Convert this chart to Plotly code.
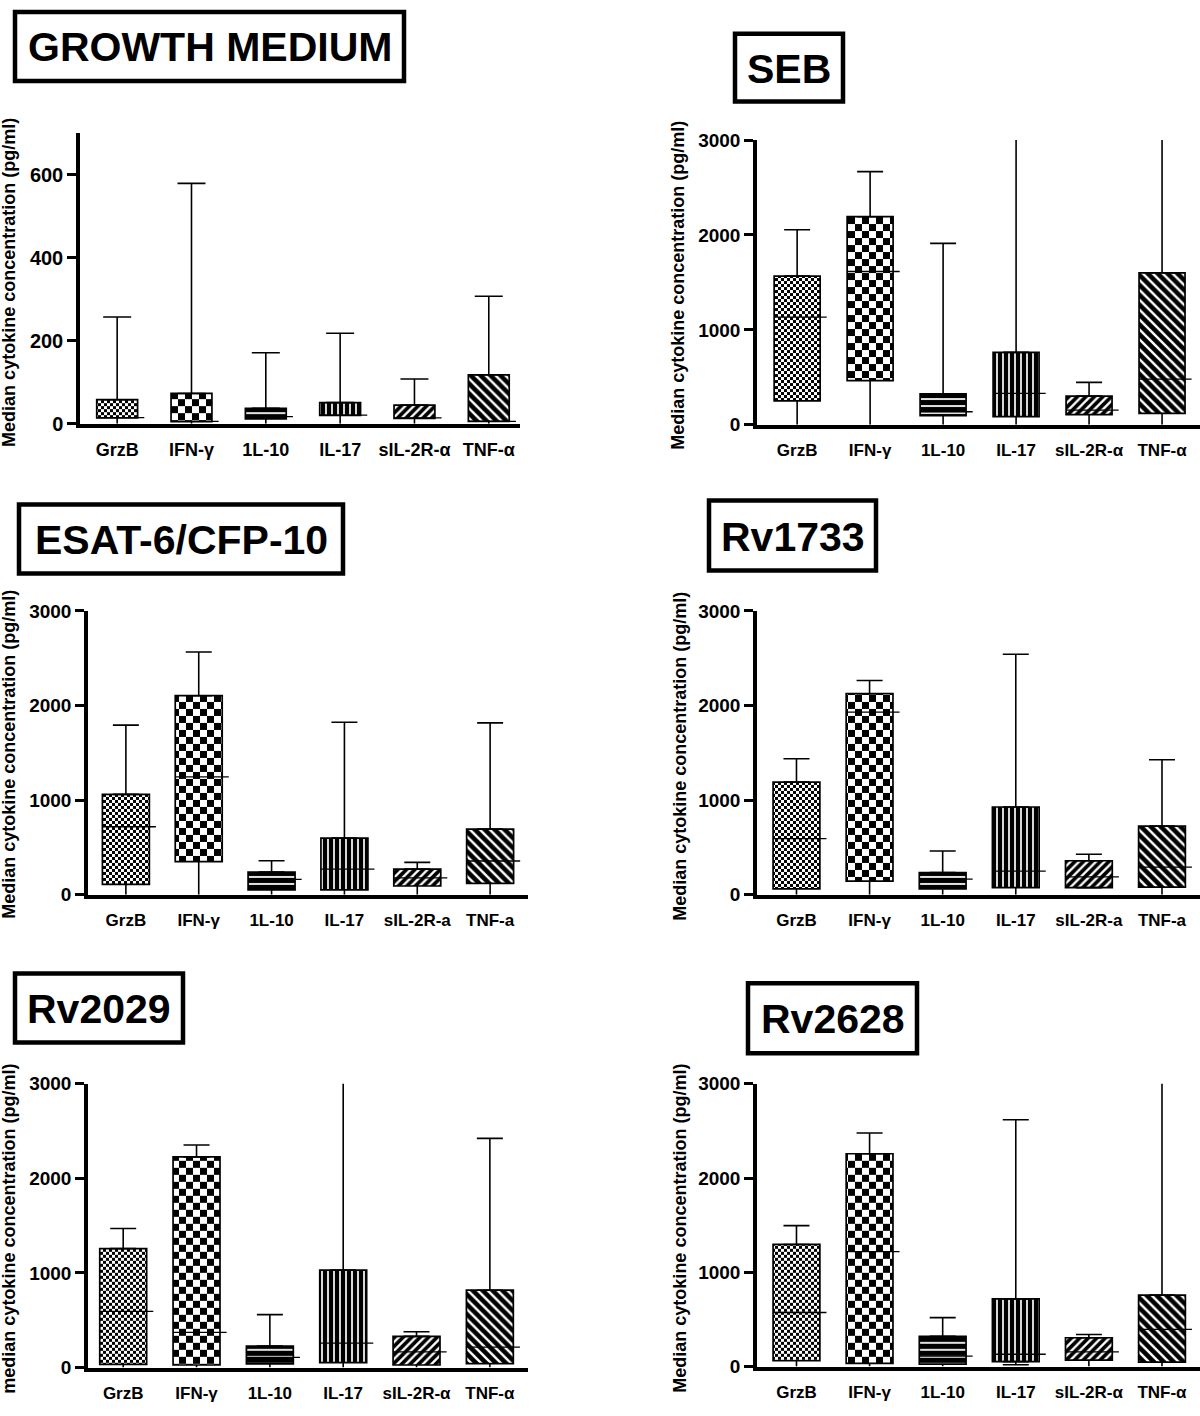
import plotly.graph_objects as go

W, H = 1200, 1416

# ---------------- data ----------------
cats_alpha = ["GrzB", "IFN-γ", "1L-10", "IL-17", "sIL-2R-α", "TNF-α"]
cats_a = ["GrzB", "IFN-γ", "1L-10", "IL-17", "sIL-2R-a", "TNF-a"]

titles = ["GROWTH MEDIUM", "SEB", "ESAT-6/CFP-10", "Rv1733", "Rv2029", "Rv2628"]
ytitle_upper = "Median cytokine concentration (pg/ml)"
ytitle_lower = "median cytokine concentration (pg/ml)"

gm_min = [0, 0, 0, 0, 0, 0]
gm_q1 = [14, 5, 12, 20, 13, 6]
gm_med = [15, 6, 17, 21, 14, 6]
gm_q3 = [58, 73, 37, 51, 45, 118]
gm_max = [257, 579, 171, 218, 108, 307]

seb_min = [0, 0, 0, 0, 0, 0]
seb_q1 = [251, 464, 96, 86, 107, 120]
seb_med = [1134, 1615, 137, 330, 155, 481]
seb_q3 = [1567, 2192, 326, 763, 302, 1601]
seb_max = [2055, 2667, 1911, 3300, 447, 3300]

esat_min = [0, 0, 0, 0, 0, 0]
esat_q1 = [109, 349, 51, 51, 92, 120]
esat_med = [718, 1245, 161, 270, 178, 356]
esat_q3 = [1061, 2104, 239, 599, 270, 694]
esat_max = [1793, 2566, 359, 1823, 342, 1817]

rv1733_min = [0, 0, 0, 0, 75, 0]
rv1733_q1 = [62, 144, 62, 75, 75, 79]
rv1733_med = [592, 1930, 164, 250, 188, 291]
rv1733_q3 = [1191, 2125, 233, 927, 359, 725]
rv1733_max = [1437, 2265, 462, 2542, 428, 1427]

rv2029_min = [0, 0, 0, 0, 0, 0]
rv2029_q1 = [34, 27, 38, 52, 27, 41]
rv2029_med = [595, 371, 107, 258, 165, 216]
rv2029_q3 = [1258, 2227, 227, 1031, 330, 818]
rv2029_max = [1471, 2354, 560, 3300, 378, 2423]

rv2628_min = [0, 0, 0, 20, 0, 0]
rv2628_q1 = [62, 34, 27, 52, 69, 48]
rv2628_med = [574, 1220, 110, 131, 155, 395]
rv2628_q3 = [1296, 2258, 320, 718, 306, 759]
rv2628_max = [1495, 2478, 519, 2619, 340, 3300]

y_ticks_gm = [0, 200, 400, 600]
y_ticks = [0, 1000, 2000, 3000]

# ---------------- layout specs (pixels) ----------------
def fx(px):
    return px / W

def fy(py):
    return 1 - py / H

FONT = "Liberation Sans, Arial, sans-serif"

panels = [
    dict(title=titles[0], cats=cats_alpha, ytitle=ytitle_upper,
         mn=gm_min, q1=gm_q1, med=gm_med, q3=gm_q3, mx=gm_max,
         ymax=700, yt=y_ticks_gm,
         ax=(80, 520), ay=(125, 420), xr=(-0.5, 5.42), bw=0.55, cap=14,
         box=(15, 2, 404, 72), tfont=20, cfont=18,
         ytx=9, yty=277),
    dict(title=titles[1], cats=cats_alpha, ytitle=ytitle_upper,
         mn=seb_min, q1=seb_q1, med=seb_med, q3=seb_q3, mx=seb_max,
         ymax=3000, yt=y_ticks,
         ax=(757, 1200), ay=(132, 421), xr=(-0.55, 5.52), bw=0.63, cap=13,
         box=(735, 24, 843, 93), tfont=19, cfont=17,
         ytx=678, yty=279),
    dict(title=titles[2], cats=cats_a, ytitle=ytitle_upper,
         mn=esat_min, q1=esat_q1, med=esat_med, q3=esat_q3, mx=esat_max,
         ymax=3000, yt=y_ticks,
         ax=(88, 528), ay=(610, 898), xr=(-0.52, 5.52), bw=0.645, cap=13,
         box=(19, 502, 343, 572), tfont=19, cfont=17,
         ytx=9, yty=756),
    dict(title=titles[3], cats=cats_a, ytitle=ytitle_upper,
         mn=rv1733_min, q1=rv1733_q1, med=rv1733_med, q3=rv1733_q3, mx=rv1733_max,
         ymax=3000, yt=y_ticks,
         ax=(757, 1200), ay=(610, 898), xr=(-0.54, 5.52), bw=0.64, cap=13,
         box=(709, 498, 876, 569), tfont=19, cfont=17,
         ytx=680, yty=758),
    dict(title=titles[4], cats=cats_alpha, ytitle=ytitle_lower,
         mn=rv2029_min, q1=rv2029_q1, med=rv2029_med, q3=rv2029_q3, mx=rv2029_max,
         ymax=3000, yt=y_ticks,
         ax=(88, 528), ay=(1090, 1378), xr=(-0.48, 5.52), bw=0.64, cap=13,
         box=(15, 978, 183, 1048), tfont=19, cfont=17,
         ytx=9, yty=1237),
    dict(title=titles[5], cats=cats_alpha, ytitle=ytitle_upper,
         mn=rv2628_min, q1=rv2628_q1, med=rv2628_med, q3=rv2628_q3, mx=rv2628_max,
         ymax=3000, yt=y_ticks,
         ax=(757, 1200), ay=(1090, 1377), xr=(-0.54, 5.52), bw=0.64, cap=13,
         box=(748, 988, 917, 1059), tfont=19, cfont=17,
         ytx=680, yty=1237),
]


def make_pattern(kind):
    base = dict(fgcolor="black", bgcolor="white", fgopacity=1, fillmode="replace")
    if kind in ("checker_fine", "checker_big"):
        sq = 3 if kind == "checker_fine" else 7
        s = 2 * sq
        path = f"M0,0H{sq}V{sq}H0Z M{sq},{sq}H{s}V{s}H{sq}Z"
        try:
            return go.bar.marker.Pattern(path=path, size=s, solidity=1, **base)
        except Exception:
            return go.bar.marker.Pattern(shape="+", size=s, solidity=0.45, **base)
    if kind == "hstripe":
        return go.bar.marker.Pattern(shape="-", size=7, solidity=0.75, **base)
    if kind == "vstripe":
        return go.bar.marker.Pattern(shape="|", size=6, solidity=0.72, **base)
    if kind == "slash":
        return go.bar.marker.Pattern(shape="/", size=6, solidity=0.62, **base)
    return go.bar.marker.Pattern(shape="\\", size=7, solidity=0.66, **base)


pattern_kinds = ["checker_fine", "checker_big", "hstripe", "vstripe", "slash", "backslash"]

fig = go.Figure()
shapes = []
annotations = []
layout_axes = {}

for k, p in enumerate(panels):
    n = k + 1
    xname = "x" if n == 1 else f"x{n}"
    yname = "y" if n == 1 else f"y{n}"
    pos = list(range(len(p["cats"])))

    # boxes (q1..q3) as patterned bars
    for i in pos:
        fig.add_trace(go.Bar(
            x=[i], y=[p["q3"][i] - p["q1"][i]], base=[p["q1"][i]],
            width=p["bw"], xaxis=xname, yaxis=yname,
            marker=dict(color="white", opacity=1,
                        pattern=make_pattern(pattern_kinds[i]),
                        line=dict(color="black", width=1.7)),
            hoverinfo="skip", showlegend=False,
        ))

    # upper whiskers
    fig.add_trace(go.Scatter(
        x=pos, y=p["q3"], mode="markers", xaxis=xname, yaxis=yname,
        marker=dict(size=1, color="rgba(0,0,0,0)"),
        error_y=dict(type="data", symmetric=False,
                     array=[p["mx"][i] - p["q3"][i] for i in pos],
                     arrayminus=[0] * len(pos),
                     width=p["cap"], thickness=1.6, color="black"),
        hoverinfo="skip", showlegend=False,
    ))
    # lower whiskers: caps only where the minimum is above zero
    for capped in (False, True):
        idx = [i for i in pos if (p["mn"][i] > 0) == capped]
        if not idx:
            continue
        fig.add_trace(go.Scatter(
            x=idx, y=[p["q1"][i] for i in idx], mode="markers",
            xaxis=xname, yaxis=yname,
            marker=dict(size=1, color="rgba(0,0,0,0)"),
            error_y=dict(type="data", symmetric=False,
                         array=[0] * len(idx),
                         arrayminus=[p["q1"][i] - p["mn"][i] for i in idx],
                         width=p["cap"] if capped else 0,
                         thickness=1.6, color="black"),
            hoverinfo="skip", showlegend=False,
        ))
    # medians
    mx_, my_ = [], []
    for i in pos:
        mx_ += [i - p["bw"] / 2, i + p["bw"] / 2 + 0.09, None]
        my_ += [p["med"][i], p["med"][i], None]
    fig.add_trace(go.Scatter(
        x=mx_, y=my_, mode="lines", xaxis=xname, yaxis=yname,
        line=dict(color="black", width=1.3),
        hoverinfo="skip", showlegend=False,
    ))

    ax0, ax1 = p["ax"]
    ayt, ayb = p["ay"]
    layout_axes["xaxis" if n == 1 else f"xaxis{n}"] = dict(
        domain=[fx(ax0), fx(ax1)], anchor=yname, range=list(p["xr"]),
        tickmode="array", tickvals=pos, ticktext=p["cats"],
        ticks="", ticklabelstandoff=7,
        tickfont=dict(family=FONT, size=p["cfont"], color="black", weight="bold"),
        showline=True, linewidth=4, linecolor="black",
        showgrid=False, zeroline=False, fixedrange=True,
    )
    layout_axes["yaxis" if n == 1 else f"yaxis{n}"] = dict(
        domain=[fy(ayb), fy(ayt)], anchor=xname, range=[0, p["ymax"]],
        tickmode="array", tickvals=p["yt"],
        ticks="outside", ticklen=9, tickwidth=3, tickcolor="black",
        tickfont=dict(family=FONT, size=p["tfont"], color="black", weight="bold"),
        showline=True, linewidth=3.5, linecolor="black",
        showgrid=False, zeroline=False, fixedrange=True,
    )

    # title box
    bx0, by0, bx1, by1 = p["box"]
    shapes.append(dict(type="rect", xref="paper", yref="paper",
                       x0=fx(bx0), x1=fx(bx1), y0=fy(by1), y1=fy(by0),
                       line=dict(color="black", width=4.5), fillcolor="white"))
    annotations.append(dict(xref="paper", yref="paper",
                            x=fx((bx0 + bx1) / 2), y=fy((by0 + by1) / 2 + 1),
                            xanchor="center", yanchor="middle", showarrow=False,
                            text=p["title"],
                            font=dict(family=FONT, size=41, color="black", weight="bold")))
    # y-axis title
    annotations.append(dict(xref="paper", yref="paper",
                            x=fx(p["ytx"]), y=fy(p["yty"]),
                            xanchor="center", yanchor="middle", showarrow=False,
                            textangle=-90, text=p["ytitle"],
                            font=dict(family=FONT, size=18, color="black", weight="bold")))

fig.update_layout(
    width=W, height=H,
    margin=dict(l=0, r=0, t=0, b=0),
    paper_bgcolor="white", plot_bgcolor="white",
    barmode="overlay", showlegend=False,
    shapes=shapes, annotations=annotations,
    **layout_axes,
)

fig.write_html(
    "out.html",
    config={"displayModeBar": False},
    post_script=(
        "document.documentElement.style.margin='0';"
        "document.body.style.margin='0';document.body.style.padding='0';"
        "document.body.style.overflow='hidden';"
    ),
)
